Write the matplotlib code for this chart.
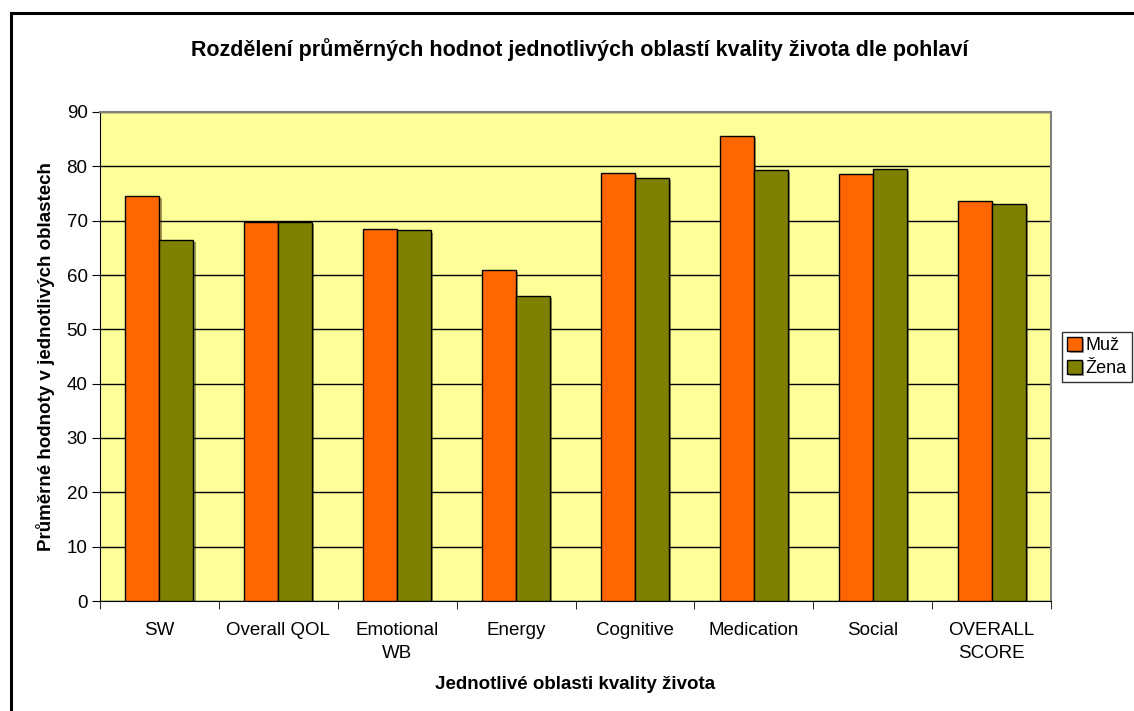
import matplotlib.pyplot as plt
import matplotlib.patheffects as pe
import numpy as np

plt.rcParams['font.family'] = ['Liberation Sans', 'DejaVu Sans']

kategorie = ['SW', 'Overall QOL', 'Emotional\nWB', 'Energy', 'Cognitive',
             'Medication', 'Social', 'OVERALL\nSCORE']
muz = [74.6, 69.8, 68.5, 60.9, 78.7, 85.6, 78.6, 73.7]
zena = [66.4, 69.8, 68.2, 56.1, 77.8, 79.3, 79.5, 73.0]

fig = plt.figure(figsize=(11.34, 7.11), dpi=100)
ax = fig.add_axes([100/1134, 1 - 601/711, 951/1134, 489/711])
ax.set_facecolor('#FFFF99')

x = np.arange(len(kategorie))
w = 0.286
stin = [pe.SimplePatchShadow(offset=(1.5, -1.5), alpha=0.45), pe.Normal()]
b1 = ax.bar(x - w/2, muz, w, color='#FF6600', edgecolor='black', linewidth=1,
            label='Muž', zorder=3)
b2 = ax.bar(x + w/2, zena, w, color='#808000', edgecolor='black', linewidth=1,
            label='Žena', zorder=3)
for b in list(b1) + list(b2):
    b.set_path_effects(stin)

ax.set_xlim(-0.5, len(kategorie) - 0.5)
ax.set_ylim(0, 90)
ax.set_yticks(range(0, 91, 10))
ax.yaxis.grid(True, color='black', linewidth=1)
ax.set_axisbelow(True)

# popisky kategorii na stred, carky na hranicich
ax.set_xticks(x)
ax.set_xticklabels(kategorie, fontsize=13.5, linespacing=1.5)
ax.tick_params(axis='x', length=0, pad=15)
ax.set_xticks(np.arange(-0.5, len(kategorie)), minor=True)
ax.tick_params(axis='x', which='minor', length=6, color='black', direction='out')
ax.tick_params(axis='y', labelsize=13.5, length=6, color='black', pad=3)

for s in ['top', 'right']:
    ax.spines[s].set_color('#808080')
    ax.spines[s].set_linewidth(1.5)
ax.spines['left'].set_color('black')
ax.spines['bottom'].set_color('black')

ax.set_xlabel('Jednotlivé oblasti kvality života', fontsize=13.5, fontweight='bold',
              labelpad=10)
ax.set_ylabel('Průměrné hodnoty v jednotlivých oblastech', fontsize=13.5,
              fontweight='bold', labelpad=8)
fig.text(580/1134, 1 - 50/711, 'Rozdělení průměrných hodnot jednotlivých oblastí kvality života dle pohlaví',
         ha='center', va='center', fontsize=15.5, fontweight='bold')

leg = fig.legend(handles=[b1, b2], loc='center left',
                 bbox_to_anchor=(1062/1134, 1 - 357/711), fontsize=13,
                 frameon=True, fancybox=False, edgecolor='black',
                 handlelength=0.8, handleheight=0.8, handletextpad=0.2,
                 borderpad=0.3, labelspacing=0.3, borderaxespad=0)
leg.get_frame().set_linewidth(1)

# ramecek grafu
fig.add_artist(plt.Line2D([11/1134, 11/1134], [0, 1 - 13/711], color='black',
                          linewidth=2.2, transform=fig.transFigure))
fig.add_artist(plt.Line2D([11/1134, 1], [1 - 13/711, 1 - 13/711], color='black',
                          linewidth=2.2, transform=fig.transFigure))

plt.savefig('out.png', dpi=100)
